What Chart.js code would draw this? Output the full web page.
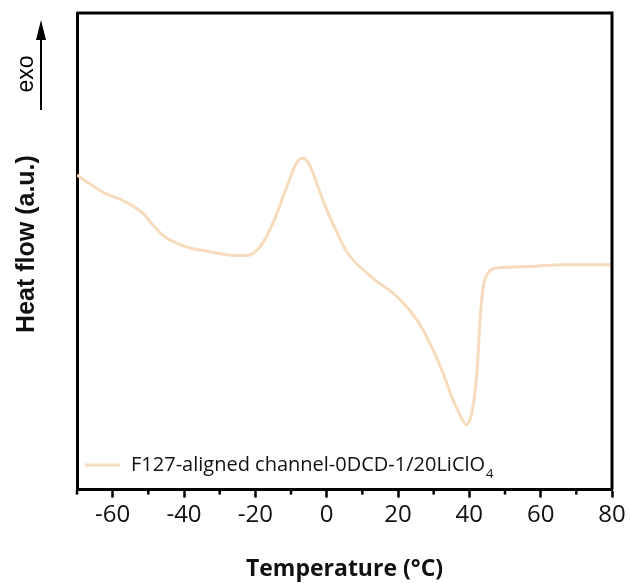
<!DOCTYPE html>
<html>
<head>
<meta charset="utf-8">
<script src="https://cdn.jsdelivr.net/npm/chart.js@4.4.1/dist/chart.umd.min.js"></script>
<style>
  html, body { margin: 0; padding: 0; background: #fff; }
  #wrap { width: 631px; height: 583px; }
</style>
</head>
<body>
<div id="wrap"><canvas id="dscChart" width="631" height="583"></canvas></div>
<script>
// temperature (°C) and heat flow (a.u.)
var temps = [-70, -66.5, -62.5, -58.9, -55.2, -51.3, -48.5, -45.7, -42, -38.4, -35, -28, -22.5, -18.7, -15, -11.2, -8.4, -6.7, -4.8, -1.1, 2.9, 5.8,
             12.9, 19.7, 25.3, 28.9, 32.6, 35.4, 38, 39.1, 40.7, 42.2, 43, 43.9, 45.3, 47.8, 57, 66, 80]
var heatFlow = [66.0, 64.2, 62.3, 61.2, 59.9, 57.8, 55.3, 53.2, 51.7, 50.7, 50.2, 49.3, 49.1, 50.9, 56.0, 63.5, 68.6, 69.6, 68.1, 60.8, 53.9, 49.7,
                44.4, 40.5, 35.6, 30.8, 24.5, 18.9, 14.7, 13.6, 16.1, 25.2, 35.6, 42.6, 45.5, 46.5, 46.8, 47.2, 47.2]
var xTicks = [-60, -40, -20, 0, 20, 40, 60, 80]
var xMinorTicks = [-70, -50, -30, -10, 10, 30, 50, 70]
var seriesName = 'F127-aligned channel-0DCD-1/20LiClO'
var seriesSub = '4'

var lineColor = '#f6dcbc'
var points = temps.map(function (t, i) { return { x: t, y: heatFlow[i] } })

// frame, minor ticks, legend, y title and exo arrow
var decorations = {
    id: 'decorations',
    afterDraw: function (chart) {
        var c = chart.ctx
        var a = chart.chartArea
        var xs = chart.scales.x
        c.save()
        c.strokeStyle = '#000'
        c.lineWidth = 3
        c.beginPath()
        c.moveTo(a.left, a.top)
        c.lineTo(a.right, a.top)
        c.lineTo(a.right, a.bottom)
        c.stroke()
        c.lineWidth = 2.5
        xMinorTicks.forEach(function (v) {
            var px = xs.getPixelForValue(v)
            c.beginPath()
            c.moveTo(px, a.bottom)
            c.lineTo(px, a.bottom + 5)
            c.stroke()
        })

        // legend
        var ly = 465
        c.strokeStyle = lineColor
        c.lineWidth = 3
        c.beginPath()
        c.moveTo(85, ly)
        c.lineTo(120, ly)
        c.stroke()
        c.fillStyle = '#111'
        c.font = '20px "Open Sans"'
        c.textBaseline = 'middle'
        c.textAlign = 'left'
        c.fillText(seriesName, 131, ly)
        var w = c.measureText(seriesName).width
        c.font = '13px "Open Sans"'
        c.fillText(seriesSub, 131 + w + 1, ly + 9)

        // y title
        c.save()
        c.translate(27, 244)
        c.rotate(-Math.PI / 2)
        c.font = 'bold 25px "Liberation Sans"'
        c.textAlign = 'center'
        c.fillText('Heat flow (a.u.)', 0, 0)
        c.restore()

        // exo arrow
        c.strokeStyle = '#000'
        c.lineWidth = 2
        c.beginPath()
        c.moveTo(41, 110)
        c.lineTo(41, 34)
        c.stroke()
        c.fillStyle = '#000'
        c.beginPath()
        c.moveTo(41, 20)
        c.lineTo(46, 40)
        c.lineTo(36, 40)
        c.closePath()
        c.fill()
        c.save()
        c.translate(27, 74)
        c.rotate(-Math.PI / 2)
        c.font = '23px "Liberation Sans"'
        c.textAlign = 'center'
        c.fillText('exo', 0, 0)
        c.restore()
        c.restore()
    }
}

var ctx = document.getElementById('dscChart')
var chart = new Chart(ctx, {
    type: 'line',
    data: {
        datasets: [{
            label: seriesName + seriesSub,
            data: points,
            borderColor: lineColor,
            borderWidth: 3,
            pointRadius: 0,
            cubicInterpolationMode: 'monotone',
            fill: false
        }]
    },
    options: {
        responsive: false,
        animation: false,
        layout: { padding: { left: 0, right: 19, top: 13, bottom: 0 } },
        plugins: { legend: { display: false }, tooltip: { enabled: false } },
        scales: {
            x: {
                type: 'linear',
                min: -70,
                max: 80,
                afterBuildTicks: function (axis) {
                    axis.ticks = xTicks.map(function (v) { return { value: v } })
                },
                grid: { drawOnChartArea: false, tickLength: 8, tickColor: '#000', tickWidth: 2.5 },
                border: { color: '#000', width: 3 },
                ticks: { color: '#111', font: { family: 'Open Sans', size: 24 }, padding: 3, autoSkip: false, maxRotation: 0 },
                title: { display: true, text: 'Temperature (°C)', color: '#111', font: { family: 'Open Sans', size: 23, weight: 'bold' }, padding: { top: 23, bottom: 0 } }
            },
            y: {
                min: 0,
                max: 100,
                grid: { display: false },
                border: { color: '#000', width: 3 },
                ticks: { display: false },
                afterFit: function (axis) { axis.width = 77 }
            }
        }
    },
    plugins: [decorations]
})
</script>
</body>
</html>
